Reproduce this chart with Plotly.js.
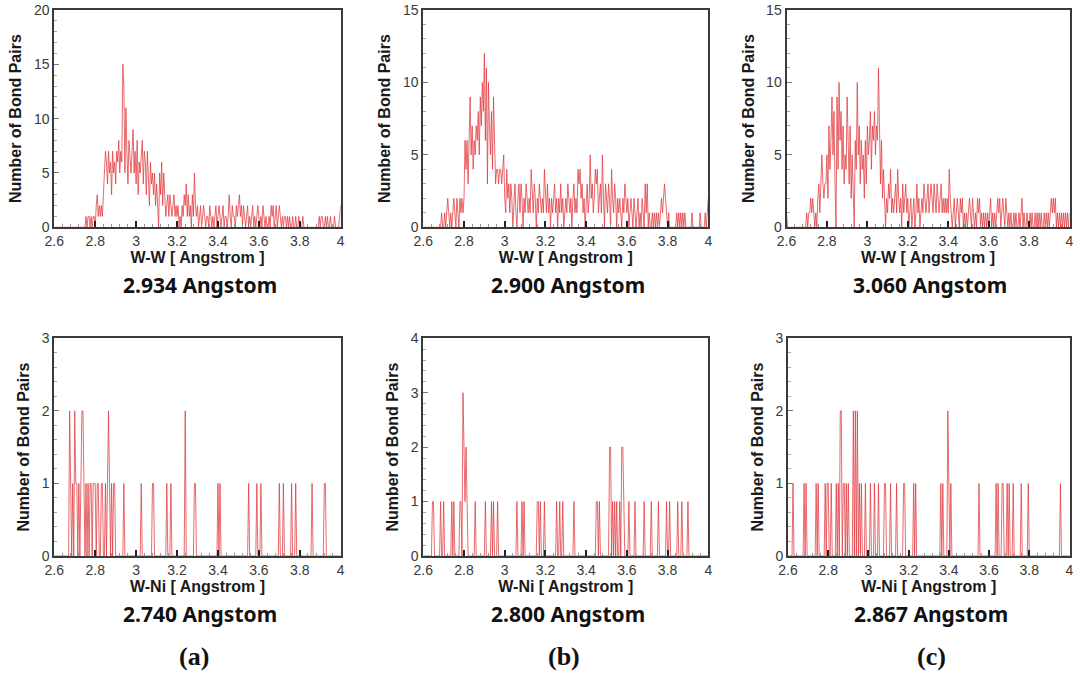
<!DOCTYPE html>
<html>
<head>
<meta charset="utf-8">
<script src="https://cdn.plot.ly/plotly-3.0.1.min.js"></script>
<style>
  html, body { margin: 0; padding: 0; background: #fff; }
  #chart { width: 1078px; height: 677px; }
</style>
</head>
<body>
<div id="chart"></div>
<script>
// Bond-length histograms: bins of 0.005 Angstrom from 2.6 to 4.0
const BIN_START = 2.6;
const BIN_WIDTH = 0.005;
const BIN_COUNT = 281;

// W-W pair counts per bin (top row)
const wwA = [
  0,0,0,0,0,0,0,0,0,0, 0,0,0,0,0,0,0,0,0,0, 0,0,0,0,0,0,0,0,0,0, 0,
  1,0,1,1,0,1,0,1,1,0,
  2,3,1,2,1,2,1,3,5,7,6,
  4,7,5,6,3,7,5,6,4,7,6,8,5,7,6,
  15,13,5,11,7,4,8,6,5,7,
  9,5,7,4,8,3,6,5,7,8,4,7,6,3,7,5,2,6,4,5,3,5,2,4,
  1,0,5,3,6,2,5,3,1,2,3,1,3,2,1,2,3,1,2,1,2,0,1,0,2,1,3,2,4,1,
  3,1,2,0,3,1,5,2,1,2,0,1,2,0,1,2,1,0,1,1,0,2,1,0,1,0,1,2,0,1,
  2,1,0,1,2,0,1,1,0,1,3,1,0,2,1,1,0,2,1,2,3,1,2,0,2,1,0,1,2,0,
  1,0,1,2,0,1,0,1,2,1,0,1,0,2,1,0,1,0,0,1,0,2,1,2,0,1,2,0,1,2,
  1,0,1,0,1,1,0,1,0,1,0,0,1,0,0,1,0,0,1,0,0,0,1,0,0,0,0,0,0,0,
  0,0,0,0,0,0,0,0,1,0,1,1,0,0,1,0,1,0,0,1,0,0,0,1,0,0,0,0,1,2
];

const wwB = [
  0,0,0,0,0,0,0,0,0,0, 0,0,0,0,0,0,0,0,
  1,0,0,1,0,1,2,1,0,1,0,1,2,1,0,2,1,0,2,1,2,1,2,
  6,4,6,3,7,9,5,7,4,6,5,7,6,8,5,9,7,10,8,12,
  6,11,3,10,7,5,8,4,9,5,3,4,4,3,4,4,3,4,5,2,
  1,4,2,3,1,3,2,0,2,3,1,0,2,3,1,3,2,0,2,1,3,2,1,2,1,4,2,1,3,2,
  0,2,1,3,2,1,2,1,4,2,1,3,1,2,0,2,1,2,3,1,2,0,2,1,3,1,2,0,1,2,
  1,3,2,1,2,0,2,3,1,2,1,4,3,4,2,3,1,2,0,2,3,1,2,5,2,3,1,2,4,3,
  4,1,2,3,1,5,2,0,3,2,1,3,2,0,4,2,1,3,2,0,2,1,2,1,0,2,1,3,2,1,
  2,0,1,2,1,0,2,1,0,1,2,0,1,0,2,1,0,3,1,3,0,1,0,0,1,0,1,0,1,0,
  1,0,1,2,1,2,3,2,1,0,1,0,0,0,0,0,0,0,1,0,1,0,1,0,1,0,1,0,0,0,
  0,0,0,1,0,0,0,0,0,0,0,1,0,0,0,0,1,0,1,2
];

const wwC = [
  1,0,0,0,0,0,0,0,0,0, 0,0,0,0,0,0,0,0,0,0,
  1,0,1,1,2,1,2,1,0,1,0,2,3,1,4,5,3,2,3,3,5,
  2,7,4,6,9,5,8,3,0,9,4,10,6,8,4,7,3,5,4,9,6,3,7,2,5,3,0,6,4,10,
  5,7,3,6,4,5,2,6,3,7,5,6,8,4,7,6,8,5,7,6,11,7,3,6,2,4,1,0,2,1,
  3,2,4,1,2,1,2,3,1,4,2,1,2,0,3,1,2,3,1,2,0,1,2,0,1,2,0,1,3,1,
  2,0,1,2,1,3,2,1,2,3,1,2,3,2,1,3,2,1,3,2,1,2,3,1,2,1,2,1,2,1,
  4,2,1,0,1,2,0,1,2,1,0,2,1,2,0,1,0,1,0,1,2,1,0,2,1,0,1,0,2,1,
  2,0,1,0,1,0,1,0,1,0,1,2,0,1,0,1,0,1,2,1,2,0,1,2,1,0,2,1,0,1,
  0,1,0,0,1,0,1,0,0,1,0,1,2,0,1,0,0,1,0,0,1,0,1,0,0,1,0,1,0,1,
  0,1,0,0,1,0,1,0,1,0,1,2,1,2,1,2,0,1,0,1,0,1,0,1,0,1,0,1,0,1
];

// W-Ni pairs (bottom row): occupied bins only, all other bins hold zero
const wniA_dist = [2.675,2.68,2.69,2.70,2.705,2.71,2.72,2.73,2.735,2.74,2.745,2.755,2.765,2.775,2.78,2.79,2.795,2.80,2.81,2.815,2.83,2.835,2.85,2.86,2.865,2.87,2.88,2.89,2.895,2.94,3.025,3.08,3.085,3.15,3.17,3.24,3.285,3.29,3.40,3.41,3.55,3.59,3.61,3.70,3.72,3.76,3.78,3.86,3.92,3.925];
const wniA_count = [2,1,1,2,1,1,1,1,2,2,1,1,1,1,1,1,1,1,1,1,1,1,1,1,2,1,1,1,1,1,1,1,1,1,1,2,1,1,1,1,1,1,1,1,1,1,1,1,1,1];

const wniB_dist = [2.645,2.65,2.685,2.70,2.74,2.75,2.78,2.785,2.795,2.80,2.805,2.81,2.815,2.855,2.905,2.935,2.945,2.965,3.06,3.085,3.095,3.16,3.165,3.175,3.195,3.255,3.27,3.285,3.34,3.45,3.455,3.465,3.515,3.52,3.53,3.54,3.55,3.565,3.575,3.58,3.585,3.61,3.64,3.685,3.72,3.755,3.795,3.81,3.85,3.87,3.90];
const wniB_count = [1,1,1,1,1,1,1,1,3,2,1,2,1,1,1,1,1,1,1,1,1,1,1,1,1,1,1,1,1,1,1,1,2,2,1,1,1,1,2,2,1,1,1,1,1,1,1,1,1,1,1];

const wniC_dist = [2.625,2.68,2.69,2.74,2.75,2.785,2.795,2.80,2.815,2.84,2.85,2.86,2.865,2.875,2.88,2.89,2.90,2.925,2.935,2.945,2.955,2.965,2.985,3.01,3.03,3.05,3.08,3.085,3.11,3.14,3.175,3.18,3.225,3.235,3.36,3.37,3.395,3.40,3.41,3.55,3.635,3.645,3.665,3.67,3.69,3.70,3.72,3.76,3.795,3.955];
const wniC_count = [1,1,1,1,1,1,1,1,1,1,1,2,2,1,1,1,1,2,2,2,1,1,1,1,1,1,1,1,1,1,1,1,1,1,1,1,2,1,1,1,1,1,1,1,1,1,1,1,1,1];

// Axis ranges, ticks and captions
const xTickVals = [2.6, 2.8, 3.0, 3.2, 3.4, 3.6, 3.8, 4.0];
const xTickText = ['2.6', '2.8', '3', '3.2', '3.4', '3.6', '3.8', '4'];
const yMax = [20, 15, 15, 3, 4, 3];
const yStep = [5, 5, 5, 1, 1, 1];
const yMinor = [1, 1, 1, 0.2, 0.2, 0.2];
const xTitles = ['W-W [ Angstrom ]', 'W-W [ Angstrom ]', 'W-W [ Angstrom ]',
                 'W-Ni [ Angstrom ]', 'W-Ni [ Angstrom ]', 'W-Ni [ Angstrom ]'];
const peakLabels = ['2.934 Angstom', '2.900 Angstom', '3.060 Angstom',
                    '2.740 Angstom', '2.800 Angstom', '2.867 Angstom'];
const columnLabels = ['(a)', '(b)', '(c)'];

// ---- build the series on the bin grid ----
const binX = [];
for (let i = 0; i < BIN_COUNT; i++) binX.push(+(BIN_START + i * BIN_WIDTH).toFixed(3));

function fromOccupied(dist, count) {
  const out = new Array(BIN_COUNT).fill(0);
  dist.forEach((d, k) => { out[Math.round((d - BIN_START) / BIN_WIDTH)] = count[k]; });
  return out;
}

const series = [wwA, wwB, wwC,
  fromOccupied(wniA_dist, wniA_count),
  fromOccupied(wniB_dist, wniB_count),
  fromOccupied(wniC_dist, wniC_count)];

// Panel frames in page pixels [left, right, top, bottom]
const W = 1078, H = 677;
const boxes = [
  [54.3, 340.7, 10, 227.3], [423.3, 708.3, 10, 227.3], [786.5, 1069.5, 10, 227.3],
  [54.3, 340.7, 338.3, 556], [423.3, 708.3, 338.3, 556], [788, 1069.5, 338.3, 556]
];

const lineColor = 'rgb(224,56,62)';
const data = series.map((ys, k) => ({
  type: 'scatter', mode: 'lines',
  x: binX, y: ys,
  xaxis: 'x' + (k ? k + 1 : ''), yaxis: 'y' + (k ? k + 1 : ''),
  line: { color: lineColor, width: 0.75 },
  hoverinfo: 'x+y', showlegend: false
}));

const tickFont = { family: 'Liberation Sans, Arial, sans-serif', size: 14, color: '#3a3a3a' };
const titleFont = { family: 'Liberation Sans, Arial, sans-serif', size: 16, color: '#1a1a1a', weight: 'bold' };

const layout = {
  width: W, height: H,
  margin: { l: 0, r: 0, t: 0, b: 0 },
  paper_bgcolor: '#fff', plot_bgcolor: '#fff',
  showlegend: false,
  annotations: []
};

boxes.forEach((b, k) => {
  const sfx = k ? String(k + 1) : '';
  layout['xaxis' + sfx] = {
    domain: [b[0] / W, b[1] / W], anchor: 'y' + sfx,
    range: [2.6, 4],
    tickmode: 'array', tickvals: xTickVals, ticktext: xTickText,
    ticklabeloverflow: 'allow',
    ticks: 'inside', ticklen: 6, tickwidth: 2, tickcolor: '#222',
    minor: { ticks: 'inside', ticklen: 3, tickwidth: 1, tickcolor: '#999', dtick: 0.04, tick0: 2.6, showgrid: false },
    showline: true, mirror: true, linecolor: '#3a3a3a', linewidth: 2,
    showgrid: false, zeroline: false, automargin: false,
    tickfont: tickFont,
    title: { text: xTitles[k], font: titleFont, standoff: 2 }
  };
  layout['yaxis' + sfx] = {
    domain: [1 - b[3] / H, 1 - b[2] / H], anchor: 'x' + sfx,
    range: [0, yMax[k]], tick0: 0, dtick: yStep[k],
    ticks: 'inside', ticklen: 5, tickwidth: 1, tickcolor: '#777',
    minor: { ticks: 'inside', ticklen: 3, tickwidth: 1, tickcolor: '#aaa', dtick: yMinor[k], showgrid: false },
    showline: true, mirror: true, linecolor: '#3a3a3a', linewidth: 2,
    showgrid: false, zeroline: false, automargin: false,
    tickfont: tickFont,
    title: { text: 'Number of Bond Pairs', font: titleFont, standoff: 8 }
  };
  // peak position caption under each panel
  const row = k < 3 ? 0 : 1;
  layout.annotations.push({
    xref: 'paper', yref: 'paper',
    x: ((b[0] + b[1]) / 2 + 2) / W, y: 1 - (row ? 614 : 285) / H,
    xanchor: 'center', yanchor: 'middle', showarrow: false,
    text: peakLabels[k],
    font: { family: 'Noto Sans, Open Sans, sans-serif', size: 21, color: '#111', weight: 'bold' }
  });
});

// column letters
[194, 564, 931].forEach((cx, c) => {
  layout.annotations.push({
    xref: 'paper', yref: 'paper', x: cx / W, y: 1 - 656 / H,
    xanchor: 'center', yanchor: 'middle', showarrow: false,
    text: columnLabels[c],
    font: { family: 'Liberation Serif, Times New Roman, serif', size: 26, color: '#111', weight: 'bold' }
  });
});

Plotly.newPlot('chart', data, layout, { displayModeBar: false, staticPlot: true });
</script>
</body>
</html>
